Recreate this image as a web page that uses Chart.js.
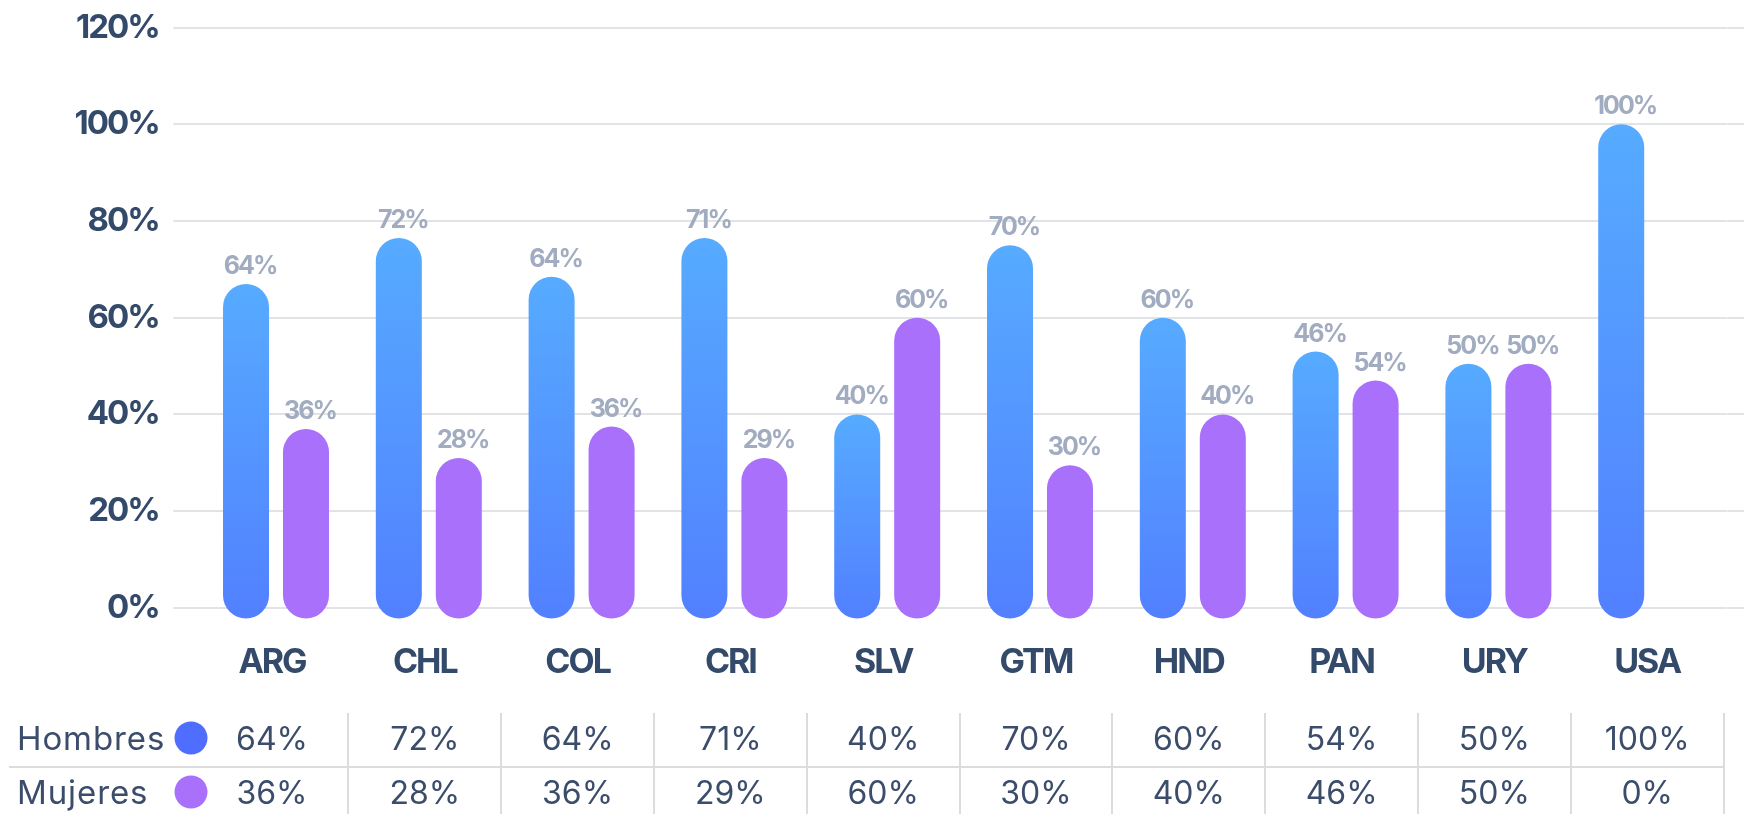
<!DOCTYPE html>
<html>
<head>
<meta charset="utf-8">
<script src="https://cdn.jsdelivr.net/npm/chart.js@4/dist/chart.umd.min.js"></script>
<style>
  html, body { margin:0; padding:0; background:#fff; }
  #wrap { position:relative; width:1744px; height:814px; overflow:hidden; font-family:Inter, sans-serif; }
  #chart { position:absolute; left:0; top:0; }
  .cell { position:absolute; font-size:32px; color:#3b4d6b; transform:translate(-50%,-50%); white-space:nowrap; }
  .rowname { position:absolute; font-size:33px; letter-spacing:0.9px; color:#3b4d6b; transform:translateY(-50%); }
  .dot { position:absolute; width:33px; height:33px; border-radius:50%; transform:translate(-50%,-50%); }
  .vline { position:absolute; width:2px; background:#dcdcdc; }
  .hline { position:absolute; height:2px; background:#dcdcdc; }
</style>
</head>
<body>
<div id="wrap">
  <canvas id="chart" width="1744" height="814"></canvas>
</div>
<script>
// Data
const categories = ['ARG','CHL','COL','CRI','SLV','GTM','HND','PAN','URY','USA'];
const hombres = [67, 76.5, 68.5, 76.5, 40, 75, 60, 53, 50.5, 100];
const mujeres = [37, 31, 37.5, 31, 60, 29.5, 40, 47, 50.5, null];
const hombresLabels = ['64%','72%','64%','71%','40%','70%','60%','46%','50%','100%'];
const mujeresLabels = ['36%','28%','36%','29%','60%','30%','40%','54%','50%',''];
const tableHombres = ['64%','72%','64%','71%','40%','70%','60%','54%','50%','100%'];
const tableMujeres = ['36%','28%','36%','29%','60%','30%','40%','46%','50%','0%'];
const seriesNames = ['Hombres','Mujeres'];
const yMin = 0, yMax = 120, yStep = 20;

const DARK = '#344a6a';
const GRID = '#e2e3e6';
const BASE = -2.2; // bars start a bit under the 0% line (rounded ends)

function blueFill(c){
  const chart = c.chart;
  if (!chart.chartArea || c.type !== 'data' || c.raw == null) return '#55a0ff';
  const y = chart.scales.y;
  const g = chart.ctx.createLinearGradient(0, y.getPixelForValue(c.raw), 0, y.getPixelForValue(BASE));
  g.addColorStop(0, '#56abff');
  g.addColorStop(1, '#5280ff');
  return g;
}

// tighter tracking for canvas text (the original uses a condensed-looking bold face)
const tracking = {
  id: 'tracking',
  beforeDraw(chart){ chart.ctx.letterSpacing = '-2px'; },
  afterDraw(chart){ chart.ctx.letterSpacing = '0px'; }
};

// value labels over bars
const barLabels = {
  id: 'barLabels',
  afterDatasetsDraw(chart){
    const ctx = chart.ctx;
    const texts = [hombresLabels, mujeresLabels];
    ctx.save();
    ctx.font = '700 25px Inter';
    ctx.fillStyle = '#a2acc0';
    ctx.textAlign = 'center';
    ctx.textBaseline = 'alphabetic';
    chart.data.datasets.forEach((ds, di)=>{
      chart.getDatasetMeta(di).data.forEach((el, i)=>{
        const t = texts[di][i];
        if (!t || ds.data[i] == null) return;
        ctx.fillText(t, el.x + 4, el.y - 10);
      });
    });
    ctx.restore();
  }
};

const chart = new Chart(document.getElementById('chart'), {
  type: 'bar',
  data: {
    labels: categories,
    datasets: [
      { label: seriesNames[0], data: hombres, backgroundColor: blueFill },
      { label: seriesNames[1], data: mujeres, backgroundColor: '#a870fb' },
    ]
  },
  options: {
    responsive: false,
    animation: false,
    events: [],
    layout: { padding: { top: 27.6, bottom: 97.3, left: 0, right: 0 } },
    datasets: { bar: { base: BASE, borderRadius: 23, borderSkipped: false, clip: false,
      categoryPercentage: 0.785, barPercentage: 0.767 } },
    plugins: { legend: { display:false }, tooltip: { enabled:false } },
    scales: {
      x: {
        offset: true,
        grid: { display:false, drawTicks:false },
        border: { display:false },
        ticks: { color: DARK, font: { family:'Inter', size:34, weight:'700' }, padding: 34, labelOffset: -4 }
      },
      y: {
        min: yMin, max: yMax,
        afterFit: s => { s.width = 199.6; },
        grid: { color: GRID, lineWidth: 2, tickLength: 26.3, drawTicks: true },
        border: { display:false },
        ticks: { stepSize: yStep, color: DARK, padding: 14.5,
          font: { family:'Inter', size:33, weight:'700', lineHeight: 0.6 }, callback: v => v + '%' }
      },
      y2: {
        position: 'right',
        min: yMin, max: yMax,
        afterFit: s => { s.width = 16.4; },
        grid: { color: GRID, lineWidth: 2, drawOnChartArea: false, tickLength: 16.4 },
        border: { display:false },
        ticks: { stepSize: yStep, display:false }
      }
    }
  },
  plugins: [tracking, barLabels]
});

// Table under the chart, columns follow the x scale
function buildTable(){
  const wrap = document.getElementById('wrap');
  const x = chart.scales.x;
  const rows = [tableHombres, tableMujeres];
  const rowY = [737.5, 792];
  const dots = ['#4f6dff', '#a870fb'];
  const add = (cls, css, text) => {
    const d = document.createElement('div');
    d.className = cls; Object.assign(d.style, css);
    if (text != null) d.textContent = text;
    wrap.appendChild(d);
  };
  const lastX = x.getPixelForValue(categories.length - 0.5) - 4;
  add('hline', { left:'9px', top:'766px', width:(lastX - 9)+'px' });
  categories.forEach((c, i)=>{
    const sx = x.getPixelForValue(i + 0.5) - 4;
    add('vline', { left:(sx-1)+'px', top:'713px', height:'101px' });
  });
  rows.forEach((r, ri)=>{
    add('rowname', { left:'17px', top: rowY[ri]+'px' }, seriesNames[ri]);
    add('dot', { left:'191px', top: rowY[ri]+'px', background: dots[ri] });
    r.forEach((v, i)=>{
      add('cell', { left:(x.getPixelForValue(i) - 4)+'px', top: rowY[ri]+'px' }, v);
    });
  });
}
buildTable();
</script>
</body>
</html>
